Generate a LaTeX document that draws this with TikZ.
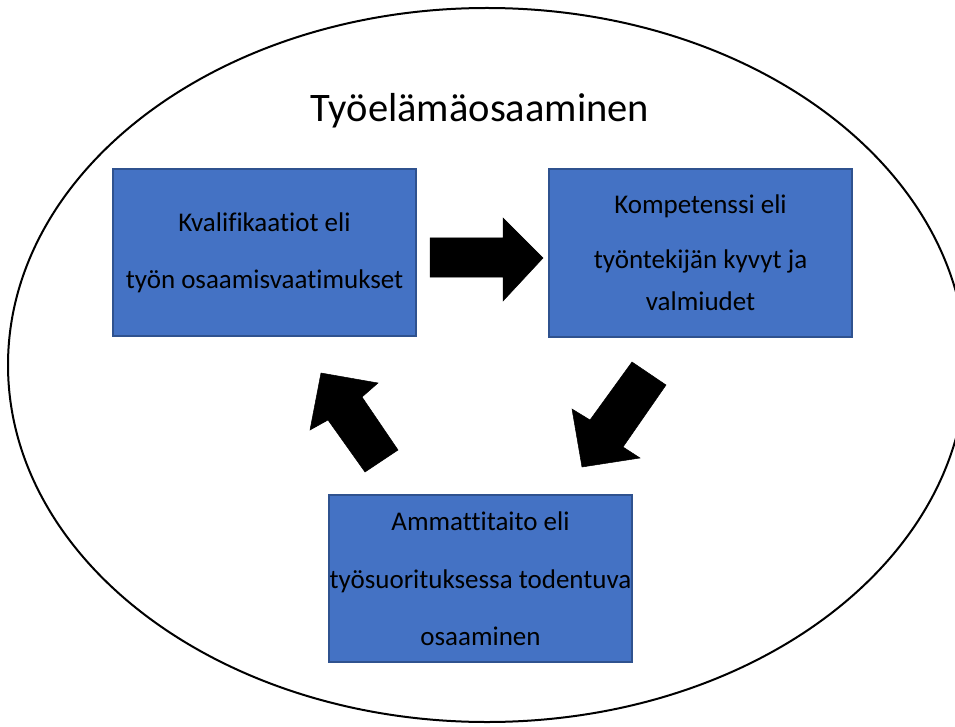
\documentclass[tikz,border=0pt]{standalone}
\usepackage{fontspec}
\setmainfont[Ligatures={NoCommon}]{Carlito}
\definecolor{boxfill}{HTML}{4472C4}
\definecolor{boxline}{HTML}{2F528F}
\tikzset{
  boxnode/.style={draw=boxline, line width=1.5pt, fill=boxfill, minimum width=303pt, minimum height=167pt, inner sep=0pt, align=center, font=\fontsize{27}{32}\selectfont, text=black},
  bigarrow/.style={fill=black, draw=black, line width=0.5pt, line join=miter},
}
\begin{document}
\begin{tikzpicture}[x=1pt,y=-1pt]
\useasboundingbox (0,0) rectangle (955,727);
\clip (0,0) rectangle (955,727);
\fill[white] (0,0) rectangle (955,727);
\draw[line width=2pt] (487,365) ellipse [x radius=479, y radius=357];
\node[font=\fontsize{40.5}{48}\selectfont] (title) at (480,111) {Työelämäosaaminen};
\node[boxnode] (kval) at (264.5,252.5) {Kvalifikaatiot eli\\[25pt]työn osaamisvaatimukset};
\node[boxnode, minimum height=168pt] (komp) at (700.5,253) {Kompetenssi eli\\[23pt]työntekijän kyvyt ja\\[10pt]valmiudet};
\node[boxnode] (amm) at (480.5,578.5) {Ammattitaito eli\\[26pt]\makebox[280pt]{työsuorituksessa todentuva}\\[25pt]osaaminen};
% arrows
\draw[bigarrow] (430,238) -- (503,238) -- (503,218) -- (543,258) -- (503,301) -- (503,277) -- (430,277) -- cycle;
\draw[bigarrow] (632,362) -- (590,420) -- (572,409) -- (582,467) -- (640,458) -- (623,447) -- (666,385) -- cycle;
\draw[bigarrow] (365,472) -- (328,420) -- (310,430) -- (321,373) -- (378,383) -- (362,397) -- (398,450) -- cycle;
\end{tikzpicture}
\end{document}
